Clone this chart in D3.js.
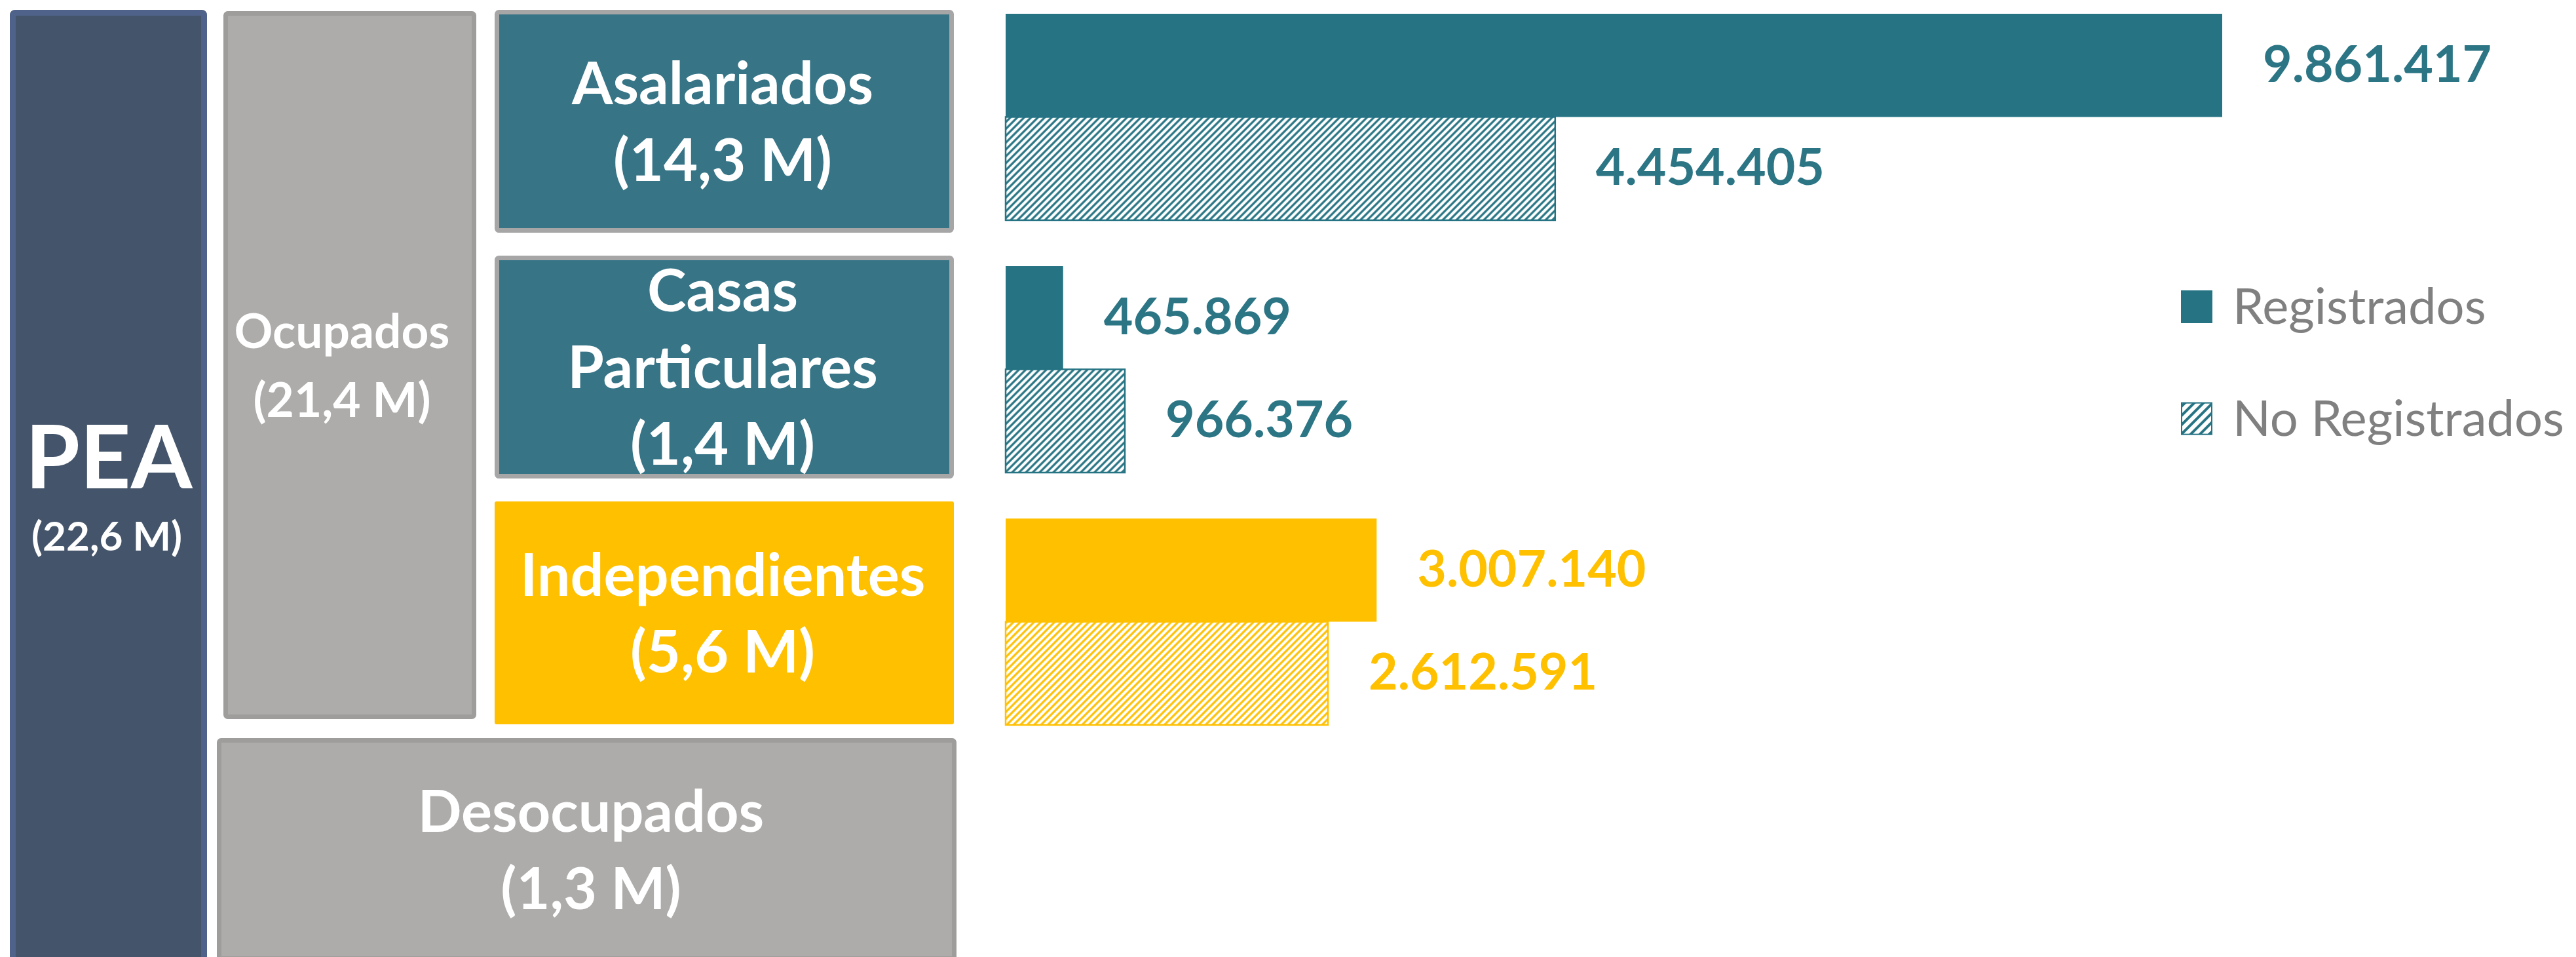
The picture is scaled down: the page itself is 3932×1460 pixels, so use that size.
<!DOCTYPE html>
<html>
<head>
<meta charset="utf-8">
<script src="https://cdn.jsdelivr.net/npm/d3@7"></script>
<style>
  html, body { margin: 0; padding: 0; background: #fff; }
  svg { display: block; }
  text { font-family: Lato, "Open Sans", sans-serif; }
</style>
</head>
<body>
<svg id="chart"></svg>
<script>
// ---- data ----
var categories = ["Asalariados", "Casas Particulares", "Independientes"];
var categoryLines = [["Asalariados"], ["Casas", "Particulares"], ["Independientes"]];
var categoryTotals = ["14,3 M", "1,4 M", "5,6 M"];
var series = ["Registrados", "No Registrados"];
var registrados = [9861417, 465869, 3007140];
var noRegistrados = [4454405, 966376, 2612591];
var peaLabel = ["PEA", "(22,6 M)"];
var ocupadosLabel = ["Ocupados", "(21,4 M)"];
var desocupadosLabel = ["Desocupados", "(1,3 M)"];

// ---- setup ----
var width = 3932, height = 1460;
var svg = d3.select("#chart").attr("width", width).attr("height", height);

var teal = "#257383", tealBox = "#367486", tealText = "#2b7585", yellow = "#ffc000";
var catColor = d3.scaleOrdinal(categories, [teal, teal, yellow]);
var labelColor = d3.scaleOrdinal(categories, [tealText, tealText, yellow]);
var boxColor = d3.scaleOrdinal(categories, [tealBox, tealBox, yellow]);
var boxStroke = d3.scaleOrdinal(categories, ["#a6a6a6", "#a6a6a6", "none"]);

var fmt = d3.formatLocale({decimal: ",", thousands: ".", grouping: [3], currency: ["$", ""]}).format(",d");

// hatch patterns (one per colour)
var defs = svg.append("defs");
function hatch(id, color, size, sw) {
    var p = defs.append("pattern")
        .attr("id", id)
        .attr("patternUnits", "userSpaceOnUse")
        .attr("width", size).attr("height", size)
        .attr("patternTransform", "rotate(45)");
    p.append("rect").attr("width", size).attr("height", size).attr("fill", "#fff");
    p.append("line")
        .attr("x1", size / 2).attr("x2", size / 2)
        .attr("y1", 0).attr("y2", size)
        .attr("stroke", color).attr("stroke-width", sw);
}
hatch("hatch-teal", teal, 7.4, 3.2);
hatch("hatch-yellow", yellow, 7.4, 3.2);
hatch("hatch-legend", teal, 10, 4);
var hatchFor = d3.scaleOrdinal(categories, ["url(#hatch-teal)", "url(#hatch-teal)", "url(#hatch-yellow)"]);

// box with stroke kept inside its outer edge
function box(x0, y0, x1, y1, fill, stroke, sw) {
    var inset = stroke === "none" ? 0 : sw / 2;
    svg.append("rect")
        .attr("x", x0 + inset).attr("y", y0 + inset)
        .attr("width", x1 - x0 - 2 * inset).attr("height", y1 - y0 - 2 * inset)
        .attr("rx", 3)
        .attr("fill", fill)
        .attr("stroke", stroke)
        .attr("stroke-width", sw);
}

// centred multi-line white label
function label(cx, cy, lines, size, gap) {
    var cap = size * 0.7165;
    svg.append("g").selectAll("text")
        .data(lines)
        .join("text")
        .attr("x", cx)
        .attr("y", function (d, i) { return cy + (i - (lines.length - 1) / 2) * gap + cap / 2; })
        .attr("text-anchor", "middle")
        .attr("fill", "#fff")
        .attr("font-weight", 700)
        .attr("font-size", size)
        .text(function (d) { return d; });
}

// ---- hierarchy boxes ----
// PEA
box(15, 15, 316, 1475, "#44546a", "#4f6289", 9);
svg.append("text").attr("x", 166).attr("y", 745)
    .attr("text-anchor", "middle").attr("fill", "#fff")
    .attr("font-weight", 700).attr("font-size", 135).text(peaLabel[0]);
svg.append("text").attr("x", 163).attr("y", 840)
    .attr("text-anchor", "middle").attr("fill", "#fff")
    .attr("font-weight", 700).attr("font-size", 62).text(peaLabel[1]);

// Ocupados / Desocupados
box(341, 17, 727, 1097, "#adacaa", "#9e9d9b", 7);
label(522, 557, ocupadosLabel, 73, 105);
box(331, 1126, 1460, 1466, "#adacaa", "#9e9d9b", 7);
label(902, 1296, desocupadosLabel, 88, 118);

// category boxes share a band scale
var boxBand = d3.scaleBand(categories, [15, 1105]).paddingInner(0.093);
categories.forEach(function (c, i) {
    var y0 = boxBand(c), y1 = y0 + boxBand.bandwidth();
    box(755, y0, 1456, y1, boxColor(c), boxStroke(c), 7);
    label(1103, (y0 + y1) / 2, categoryLines[i].concat(["(" + categoryTotals[i] + ")"]), 90, 117);
});

// ---- bars ----
var bars = [];
categories.forEach(function (c, i) {
    bars.push({cat: c, s: series[0], v: registrados[i]});
    bars.push({cat: c, s: series[1], v: noRegistrados[i]});
});

var x = d3.scaleLinear()
    .domain([0, d3.max(bars, function (d) { return d.v; })])
    .range([1535, 3392]);
var y = d3.scaleBand(categories, [21, 1106]).paddingInner(0.182);
var ySub = d3.scaleBand(series, [0, y.bandwidth()]);

svg.append("g").selectAll("rect")
    .data(bars)
    .join("rect")
    .attr("x", x(0))
    .attr("y", function (d) { return y(d.cat) + ySub(d.s); })
    .attr("width", function (d) { return x(d.v) - x(0); })
    .attr("height", ySub.bandwidth())
    .attr("fill", function (d) { return d.s === series[0] ? catColor(d.cat) : hatchFor(d.cat); })
    .attr("stroke", function (d) { return d.s === series[0] ? "none" : catColor(d.cat); })
    .attr("stroke-width", 2.5);

svg.append("g").selectAll("text")
    .data(bars)
    .join("text")
    .attr("x", function (d) { return x(d.v) + 62; })
    .attr("y", function (d) { return y(d.cat) + ySub(d.s) + ySub.bandwidth() / 2 + 25; })
    .attr("fill", function (d) { return labelColor(d.cat); })
    .attr("font-weight", 700)
    .attr("font-size", 77)
    .text(function (d) { return fmt(d.v); });

// ---- legend ----
var legendY = d3.scaleBand(series, [443, 699]).paddingInner(0.5);
var legend = svg.append("g").selectAll("g")
    .data(series)
    .join("g")
    .attr("transform", function (d) { return "translate(3329," + legendY(d) + ")"; });
legend.append("rect")
    .attr("x", 1).attr("y", 1)
    .attr("width", 46).attr("height", 48)
    .attr("fill", function (d, i) { return i === 0 ? teal : "url(#hatch-legend)"; })
    .attr("stroke", teal).attr("stroke-width", 2);
legend.append("text")
    .attr("x", 79).attr("y", 51)
    .attr("fill", "#808080")
    .attr("font-size", 76)
    .text(function (d) { return d; });
</script>
</body>
</html>
